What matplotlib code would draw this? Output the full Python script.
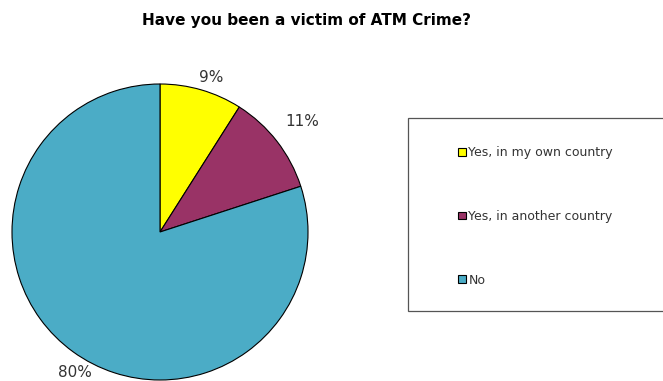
import numpy as np
import matplotlib.pyplot as plt
from matplotlib.patches import Patch, Rectangle

plt.rcParams['font.family'] = ['DejaVu Sans']

categories = ['Yes, in my own country', 'Yes, in another country', 'No']
values = [9, 11, 80]
pct_labels = ['9%', '11%', '80%']
colors = ['#FFFF00', '#993366', '#4BACC6']

fig = plt.figure(figsize=(6.63, 3.81), dpi=100)
ax = fig.add_axes([12/663, 1/381, 296/663, 296/381])

wedges, _ = ax.pie(values, colors=colors, startangle=90, counterclock=False,
                   wedgeprops=dict(edgecolor='black', linewidth=0.8))
ax.set_xlim(-1, 1)
ax.set_ylim(-1, 1)
ax.set_aspect('equal')

# percent labels placed outside the slices
label_dist = [1.1, 1.22, 1.11]
label_shift = [-2, 0, 5]
for w, lab, d, s in zip(wedges, pct_labels, label_dist, label_shift):
    ang = np.deg2rad((w.theta1 + w.theta2) / 2 + s)
    ax.text(d * np.cos(ang), d * np.sin(ang), lab, ha='center', va='center',
            fontsize=11, color='#333333', clip_on=False)

fig.text(307/663, 1 - 20/381, 'Have you been a victim of ATM Crime?',
         ha='center', va='center', fontsize=11, fontweight='bold')

# legend frame
fig.add_artist(Rectangle((408/663, 1 - 311/381), 300/663, 193/381,
                         transform=fig.transFigure, facecolor='white',
                         edgecolor='#555555', linewidth=0.9))
handles = [Patch(facecolor=c, edgecolor='black', linewidth=0.8) for c in colors]
fig.legend(handles, categories, loc='upper left', frameon=False,
           bbox_to_anchor=(447/663, 1 - 135/381), fontsize=9,
           handlelength=0.65, handleheight=0.6, handletextpad=0.15,
           labelspacing=4.05, labelcolor='#333333')

fig.savefig('out.png', dpi=100)
